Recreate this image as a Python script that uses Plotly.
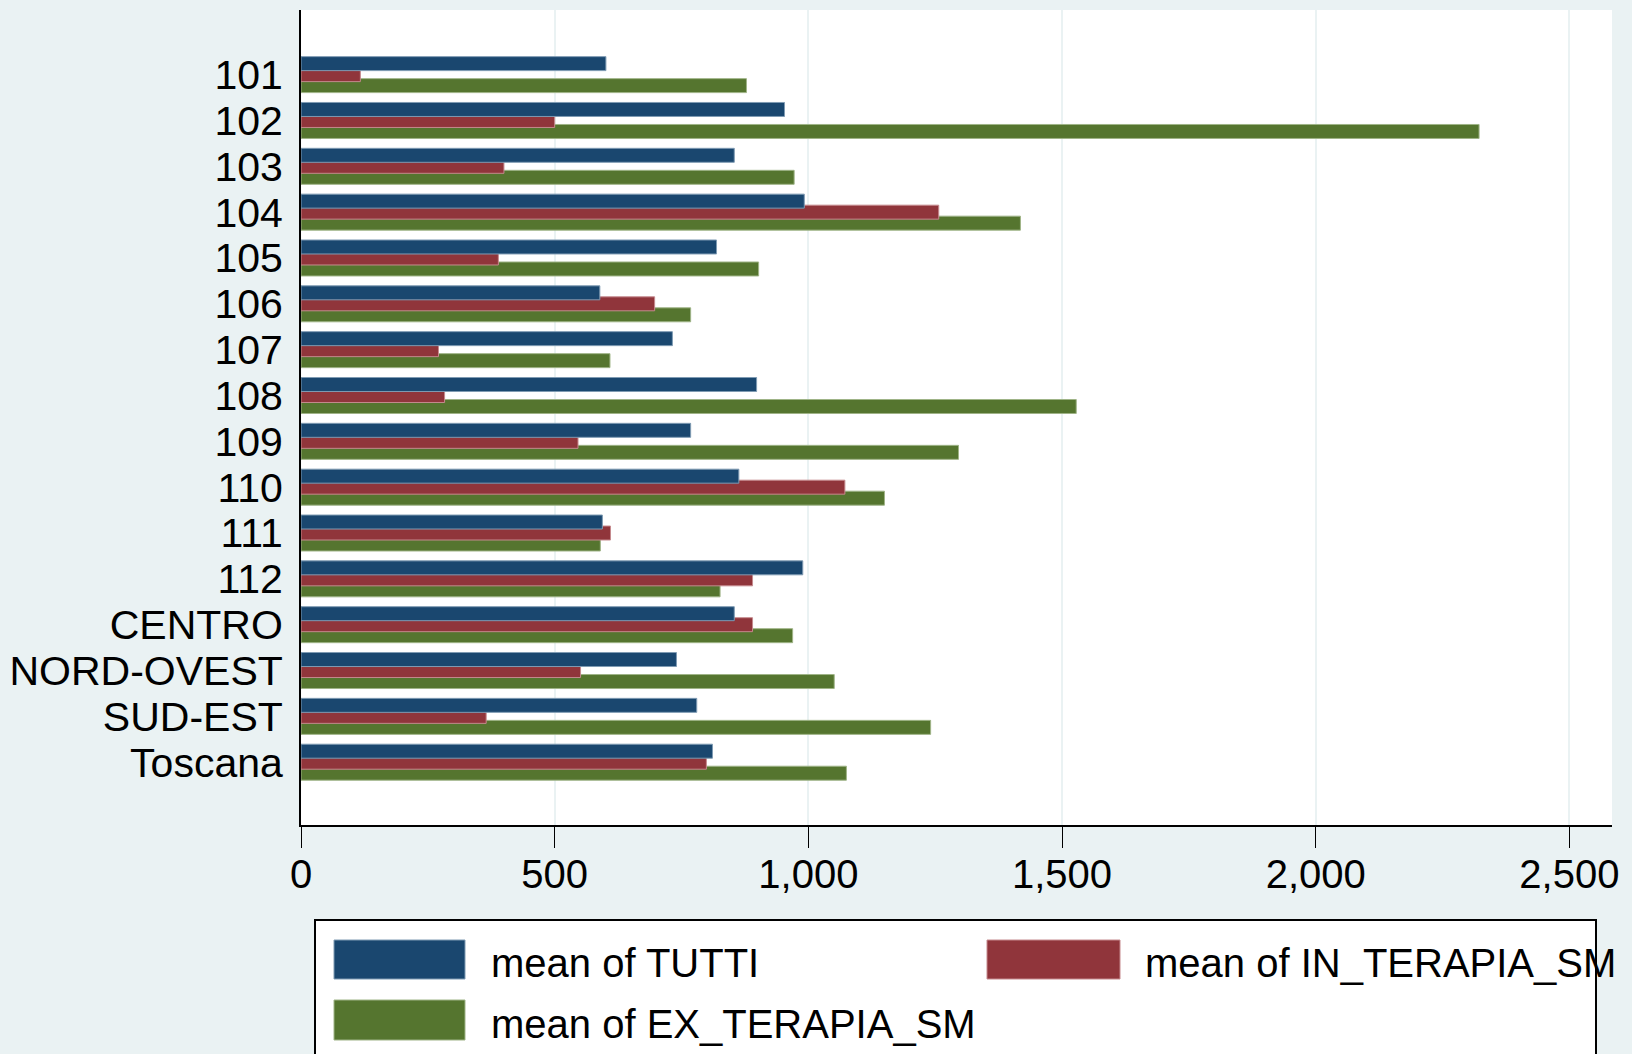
import plotly.graph_objects as go

categories = ["101", "102", "103", "104", "105", "106", "107", "108", "109", "110",
              "111", "112", "CENTRO", "NORD-OVEST", "SUD-EST", "Toscana"]
tutti = [601, 953, 854, 992, 819, 589, 732, 898, 768, 863, 594, 989, 854, 740, 780, 811]
in_terapia = [117, 500, 400, 1257, 389, 697, 271, 283, 546, 1072, 610, 890, 890, 551, 365, 799]
ex_terapia = [878, 2322, 972, 1418, 902, 768, 609, 1528, 1296, 1150, 590, 826, 969, 1051, 1241, 1075]
series_names = ["mean of TUTTI", "mean of IN_TERAPIA_SM", "mean of EX_TERAPIA_SM"]
x_ticks = [0, 500, 1000, 1500, 2000, 2500]
x_ticklabels = ["0", "500", "1,000", "1,500", "2,000", "2,500"]

W, H = 1632, 1054
L, R, T, B = 301, 20, 10, 229
PW, PH = W - L - R, H - T - B

NAVY = "#1a476f"
MAROON = "#90353b"
GREEN = "#55752f"
BG = "#eaf2f3"
FONT = "Liberation Sans, Arial, sans-serif"

bw = 0.305
step = 0.24

fig = go.Figure()
# draw order: green (bottom), red, blue (top)
for vals, col, line, off in [
    (ex_terapia, GREEN, "#9fb487", step),
    (in_terapia, MAROON, "#c58a8e", 0.0),
    (tutti, NAVY, "#7f9bb3", -step),
]:
    fig.add_trace(go.Bar(
        y=categories, x=vals, orientation="h",
        width=bw, offset=off - bw / 2,
        marker=dict(color=col, line=dict(color=line, width=1)),
        showlegend=False, hoverinfo="skip",
    ))

n = len(categories)
fig.update_layout(
    width=W, height=H,
    margin=dict(l=L, r=R, t=T, b=B, pad=0, autoexpand=False),
    paper_bgcolor=BG, plot_bgcolor="white",
    barmode="overlay",
    font=dict(family=FONT, size=40, color="black"),
    xaxis=dict(
        range=[0, 2584], tickvals=x_ticks, ticktext=x_ticklabels,
        showgrid=True, gridcolor=BG, gridwidth=2,
        showline=True, linecolor="black", linewidth=2,
        ticks="outside", ticklen=21, tickcolor="black", tickwidth=1,
        ticklabelstandoff=-8, automargin=False,
        zeroline=False, tickfont=dict(size=40),
    ),
    yaxis=dict(
        type="category", categoryarray=categories,
        tickmode="array", tickvals=categories, ticktext=categories,
        range=[n - 1 + 1.37, -1.41],
        showgrid=False, showline=True, linecolor="black", linewidth=2,
        ticks="", ticklabelstandoff=8, tickfont=dict(size=41),
        zeroline=False, automargin=False,
    ),
)

def px(x):
    return (x - L) / PW

def py(y):
    return (H - B - y) / PH

# legend box
fig.add_shape(type="rect", xref="paper", yref="paper",
              x0=px(315), x1=px(1596), y0=py(1100), y1=py(920),
              fillcolor="white", line=dict(color="black", width=2), layer="below")
legend_items = [
    (series_names[0], NAVY, "#7f9bb3", 334, 465, 940, 979, 489),
    (series_names[1], MAROON, "#c58a8e", 987, 1120, 940, 979, 1143),
    (series_names[2], GREEN, "#9fb487", 334, 465, 1000, 1040, 489),
]
for name, col, lc, x0, x1, y0, y1, tx in legend_items:
    fig.add_shape(type="rect", xref="paper", yref="paper",
                  x0=px(x0), x1=px(x1), y0=py(y1), y1=py(y0),
                  fillcolor=col, line=dict(color=lc, width=1))
    fig.add_annotation(xref="paper", yref="paper", x=px(tx), y=py((y0 + y1) / 2 + 4),
                       text=name, showarrow=False, xanchor="left", yanchor="middle",
                       font=dict(family=FONT, size=40, color="black"))

fig.write_html(
    "out.html",
    config={"displayModeBar": False},
    post_script="document.body.style.margin='0';document.body.style.background='#eaf2f3';",
)
